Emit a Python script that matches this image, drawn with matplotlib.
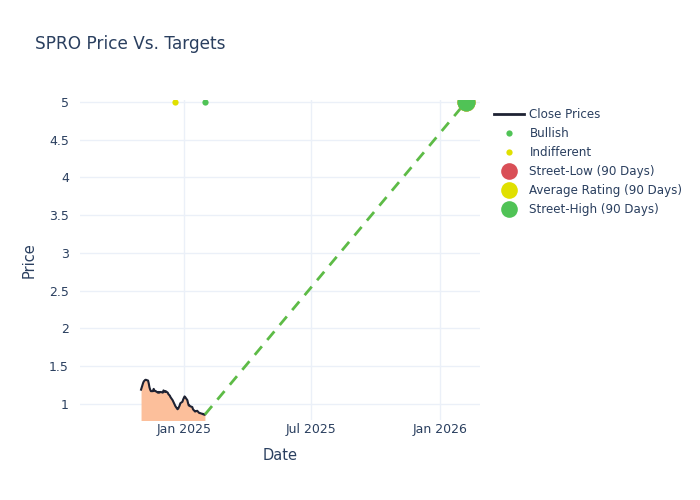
import matplotlib
matplotlib.use("Agg")
import matplotlib.pyplot as plt
from matplotlib.lines import Line2D
import pandas as pd

plt.rcParams['font.family'] = ['DejaVu Sans']

holidays = ["2024-11-28", "2024-12-25", "2025-01-01"]
close_dates = [d for d in pd.bdate_range("2024-11-01", "2025-01-31") if d.strftime("%Y-%m-%d") not in holidays]
close_prices = [
    1.19, 1.28, 1.30, 1.31, 1.32, 1.32, 1.31, 1.27, 1.22, 1.19, 1.17, 1.17, 1.20, 1.18, 1.17, 1.17,
    1.15, 1.16, 1.15, 1.16,
    1.15, 1.18, 1.17, 1.16, 1.17, 1.15, 1.13, 1.12, 1.11, 1.09, 1.05, 1.03, 1.01, 0.99, 0.97,
    0.93, 0.94, 0.98, 1.01, 1.03, 1.06,
    1.10, 1.09, 1.05, 1.01, 0.98, 0.98, 0.97, 0.96, 0.93, 0.92, 0.91, 0.90, 0.91, 0.90, 0.89,
    0.88, 0.88, 0.87, 0.87, 0.86, 0.87, 0.86,
]

bullish_dates = ["2025-01-31"]
bullish_targets = [5.0]
indifferent_dates = ["2024-12-20"]
indifferent_targets = [5.0]

target_date = "2026-02-07"
street_low = 5.0
average_rating = 5.0
street_high = 5.0

text_color = "#2a3f5f"
grid_color = "#ebf0f8"
green = "#50c356"
red = "#d94f57"
yellow = "#e0e000"

fig = plt.figure(figsize=(7, 5), dpi=100)
ax = fig.add_axes([80/700, 80/500, 400/700, 320/500])

cd = pd.to_datetime(close_dates)
ax.fill_between(cd, close_prices, 0, color="#fcbf9b", linewidth=0, zorder=2)
ax.plot(cd, close_prices, color="#1e2233", linewidth=1.5, label="Close Prices", zorder=3)

ax.plot([cd[-1], pd.Timestamp(target_date)], [close_prices[-1], street_high],
        color="#5dbb46", linestyle=(0, (4, 3)), linewidth=2, zorder=3)

ax.plot(pd.to_datetime(bullish_dates), bullish_targets, "o", color=green, markersize=4.5,
        label="Bullish", zorder=4, markeredgewidth=0)
ax.plot(pd.to_datetime(indifferent_dates), indifferent_targets, "o", color=yellow, markersize=4.5,
        label="Indifferent", zorder=4, markeredgewidth=0)
td = pd.to_datetime([target_date])
ax.plot(td, [street_low], "o", color=red, markersize=13, label="Street-Low (90 Days)", zorder=5, markeredgewidth=0)
ax.plot(td, [average_rating], "o", color=yellow, markersize=13, label="Average Rating (90 Days)", zorder=6, markeredgewidth=0)
ax.plot(td, [street_high], "o", color=green, markersize=13, label="Street-High (90 Days)", zorder=7, markeredgewidth=0)

ax.set_xlim(pd.Timestamp("2024-08-06"), pd.Timestamp("2026-02-27"))
ax.set_ylim(0.788, 5.026)
ax.set_yticks([1, 1.5, 2, 2.5, 3, 3.5, 4, 4.5, 5])
ax.set_yticklabels(["1", "1.5", "2", "2.5", "3", "3.5", "4", "4.5", "5"])
ax.set_xticks(pd.to_datetime(["2025-01-01", "2025-07-01", "2026-01-01"]))
ax.set_xticklabels(["Jan 2025", "Jul 2025", "Jan 2026"])

for s in ax.spines.values():
    s.set_visible(False)
ax.grid(True, color=grid_color, linewidth=1, zorder=0)
ax.set_axisbelow(True)
ax.tick_params(axis="y", length=0, colors=text_color, labelsize=9, pad=8)
ax.tick_params(axis="x", length=0, colors=text_color, labelsize=9, pad=2)

ax.set_xlabel("Date", color=text_color, fontsize=10.5, labelpad=9)
ax.set_ylabel("Price", color=text_color, fontsize=10.5, labelpad=9)

fig.text(35/700, 1 - 44/500, "SPRO Price Vs. Targets", color=text_color, fontsize=12.2, va="center", ha="left")

labels = ["Close Prices", "Bullish", "Indifferent", "Street-Low (90 Days)",
          "Average Rating (90 Days)", "Street-High (90 Days)"]
leg_handles = [
    Line2D([], [], color="#1e2233", linewidth=2),
    Line2D([], [], marker="o", linestyle="", color=green, markersize=4.5, markeredgewidth=0),
    Line2D([], [], marker="o", linestyle="", color=yellow, markersize=4.5, markeredgewidth=0),
    Line2D([], [], marker="o", linestyle="", color=red, markersize=12, markeredgewidth=0),
    Line2D([], [], marker="o", linestyle="", color=yellow, markersize=12, markeredgewidth=0),
    Line2D([], [], marker="o", linestyle="", color=green, markersize=12, markeredgewidth=0),
]
leg = fig.legend(leg_handles, labels, loc="upper left", bbox_to_anchor=(494/700, 1 - 108/500),
                 frameon=False, fontsize=8.6, handlelength=2.55, handletextpad=0.42,
                 labelspacing=0.51, borderpad=0, borderaxespad=0)
for t in leg.get_texts():
    t.set_color(text_color)

fig.savefig("out.png", dpi=100, facecolor="white")
